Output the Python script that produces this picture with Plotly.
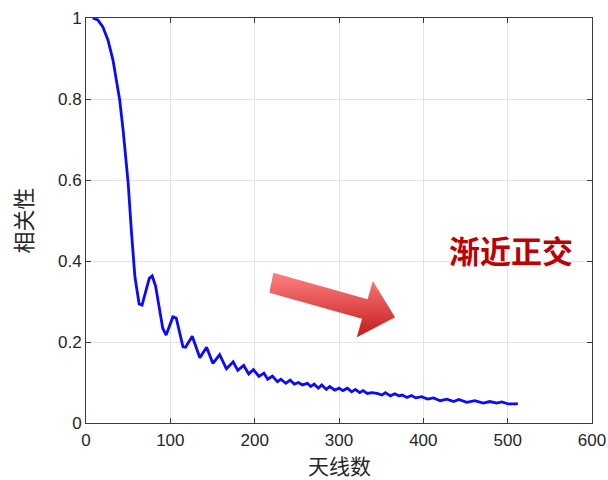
import plotly.graph_objects as go

# Antenna count (x) and correlation (y)
antennas = [8, 14, 20, 26, 32, 36, 40, 44, 47, 50, 54, 58, 63, 66.5, 75, 78.5, 82.5,
            91, 95, 103, 107, 115, 118, 126, 135, 143, 150.5, 158.5, 166.5, 174.5,
            180, 187, 193, 198.5, 205, 211, 215.5, 221, 227, 231, 237, 242, 247, 252,
            256.5, 262.5, 266.5, 270.5, 275.5, 279.5, 285, 289, 295, 300, 304.5, 310,
            315, 319.5, 324.5, 328.5, 333.5, 339, 345, 351, 355, 361, 366, 371, 375,
            380.5, 386, 391, 398, 405, 412, 420, 428, 436, 442, 451.5, 461, 471, 479,
            487, 493, 501, 509, 512]
correlation = [1.0, 0.995, 0.978, 0.946, 0.896, 0.847, 0.797, 0.723, 0.658, 0.592,
               0.469, 0.361, 0.294, 0.291, 0.357, 0.363, 0.338, 0.234, 0.217, 0.262,
               0.259, 0.188, 0.187, 0.214, 0.161, 0.187, 0.147, 0.169, 0.134, 0.151,
               0.130, 0.142, 0.121, 0.132, 0.115, 0.123, 0.108, 0.116, 0.102, 0.108,
               0.098, 0.106, 0.096, 0.100, 0.094, 0.098, 0.090, 0.096, 0.086, 0.094,
               0.083, 0.090, 0.081, 0.086, 0.080, 0.086, 0.077, 0.083, 0.075, 0.080,
               0.073, 0.075, 0.073, 0.069, 0.075, 0.067, 0.072, 0.067, 0.069, 0.063,
               0.068, 0.062, 0.065, 0.059, 0.062, 0.055, 0.059, 0.053, 0.058, 0.051,
               0.055, 0.049, 0.053, 0.049, 0.052, 0.047, 0.047, 0.048]

x_ticks = [0, 100, 200, 300, 400, 500, 600]
y_ticks = [0, 0.2, 0.4, 0.6, 0.8, 1]
y_tick_text = ["0", "0.2", "0.4", "0.6", "0.8", "1"]

x_title = "天线数"
y_title = "相关性"
note_text = "渐近正交"

# decorative block arrow outline (data coordinates)
arrow_x = [222.2, 333.9, 340.1, 366.5, 321.1, 327.3, 217.4, 222.2]
arrow_y = [0.371, 0.3057, 0.3506, 0.261, 0.2116, 0.2573, 0.3217, 0.371]

CJK = "Noto Sans CJK SC"
LAT = "Liberation Sans, Arial, sans-serif"

fig = go.Figure()

fig.add_trace(go.Scatter(
    x=arrow_x, y=arrow_y, mode="lines", fill="toself",
    line=dict(width=0, color="rgba(0,0,0,0)"),
    fillgradient=dict(type="vertical",
                      colorscale=[[0, "#c41a1a"], [1, "#ff8282"]],
                      start=0.2116, stop=0.371),
    hoverinfo="skip", showlegend=False,
))

fig.add_trace(go.Scatter(
    x=antennas, y=correlation, mode="lines",
    line=dict(color="#0a0aff", width=2.8),
    showlegend=False,
))

axis_common = dict(
    showline=True, linecolor="#3a3a3a", linewidth=1, mirror="ticks",
    ticks="inside", ticklen=5, tickcolor="#3a3a3a", tickwidth=1,
    showgrid=True, gridcolor="#e3e3e3", gridwidth=1, zeroline=False,
    automargin=False,
    tickfont=dict(family=LAT, size=17, color="#262626"),
)

fig.update_xaxes(range=[0, 600], tickvals=x_ticks, ticklabelstandoff=2, **axis_common)
fig.update_yaxes(range=[0, 1], tickvals=y_ticks, ticktext=y_tick_text,
                 title=dict(text=y_title, font=dict(family=CJK, size=22, color="#262626"), standoff=19),
                 **axis_common)

plot_h = 423 - 18
# x-axis title placed as a paper annotation below the tick labels
fig.add_annotation(x=0.5, y=-(465 - 423) / plot_h, xref="paper", yref="paper",
                   text=x_title, xanchor="center", yanchor="middle", showarrow=False,
                   font=dict(family=CJK, size=21, color="#262626"))

fig.add_annotation(x=(511 - 86) / (592 - 86), y=(423 - 249) / plot_h,
                   xref="paper", yref="paper", text="<b>" + note_text + "</b>",
                   xanchor="center", yanchor="middle",
                   showarrow=False, font=dict(family=CJK, size=31, color="#c00000"))

fig.update_layout(
    width=608, height=480,
    margin=dict(l=86, r=16, t=18, b=57),
    paper_bgcolor="white", plot_bgcolor="white",
)

fig.write_html("out.html")
